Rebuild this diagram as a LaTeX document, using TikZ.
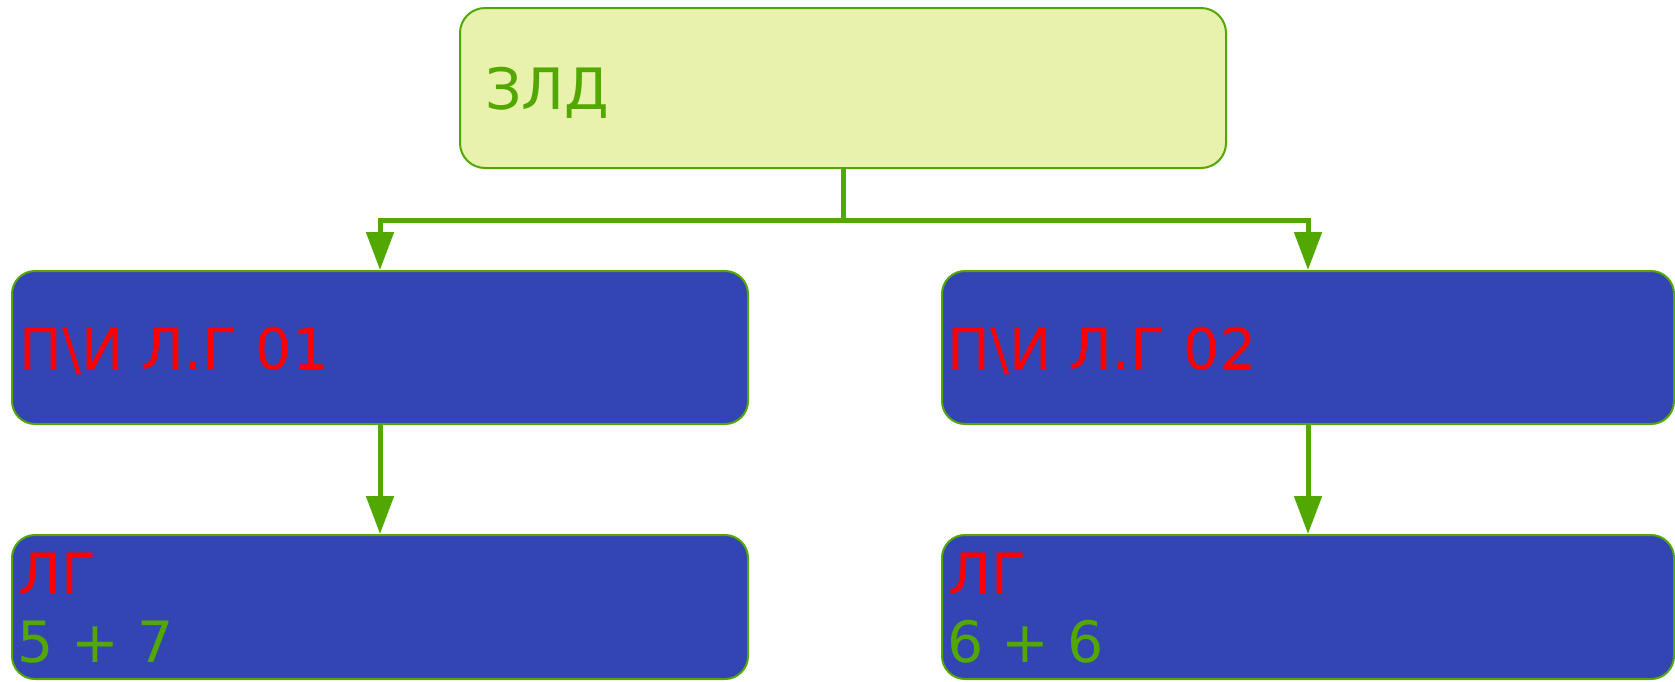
\documentclass[tikz,border=0pt]{standalone}
\usepackage{fontspec}
\setmainfont{DejaVu Sans}
\usetikzlibrary{arrows.meta}
\definecolor{lgreen}{HTML}{E8F2AC}
\definecolor{dgreen}{HTML}{52A800}
\definecolor{blu}{HTML}{3344B3}
\definecolor{rd}{HTML}{FF0000}
\tikzset{
  topbox/.style={draw=dgreen, line width=2pt, fill=lgreen, rounded corners=25pt, inner sep=0pt},
  bluebox/.style={draw=dgreen, line width=2pt, fill=blu, rounded corners=23pt, inner sep=0pt},
  lbl/.style={anchor=base west, inner sep=0pt, font=\fontsize{57}{68}\selectfont},
  wire/.style={draw=dgreen, line width=5pt},
  conn/.style={wire, -{Triangle[width=27pt,length=38pt]}},
}
\begin{document}
\begin{tikzpicture}[x=1pt,y=-1pt]
\useasboundingbox (0,0) rectangle (1675,681);
% boxes
\node[topbox, minimum width=766pt, minimum height=160pt] (top) at (843,88) {};
\node[bluebox, minimum width=736pt, minimum height=153pt] (m1) at (380,347.5) {};
\node[bluebox, minimum width=732pt, minimum height=153pt] (m2) at (1308,347.5) {};
\node[bluebox, minimum width=736pt, minimum height=144pt] (b1) at (380,607) {};
\node[bluebox, minimum width=732pt, minimum height=144pt] (b2) at (1308,607) {};
% texts
\node[lbl, text=dgreen] (t0) at (485,109) {ЗЛД};
\node[lbl, text=rd] (t1) at (19,369) {П\textbackslash И Л.Г 01};
\node[lbl, text=rd] (t2) at (947,369) {П\textbackslash И Л.Г 02};
\node[lbl, text=rd] (t3a) at (18,594) {ЛГ};
\node[lbl, text=dgreen] (t3b) at (17,662) {5 + 7};
\node[lbl, text=rd] (t4a) at (948,594) {ЛГ};
\node[lbl, text=dgreen] (t4b) at (947,662) {6 + 6};
% connectors
\coordinate (j) at (843,220);
\draw[wire] (top.south) -- (j);
\draw[conn] (j) -| (m1.north);
\draw[conn] (j) -| (m2.north);
\draw[conn] (m1.south) -- (b1.north);
\draw[conn] (m2.south) -- (b2.north);
\end{tikzpicture}
\end{document}
